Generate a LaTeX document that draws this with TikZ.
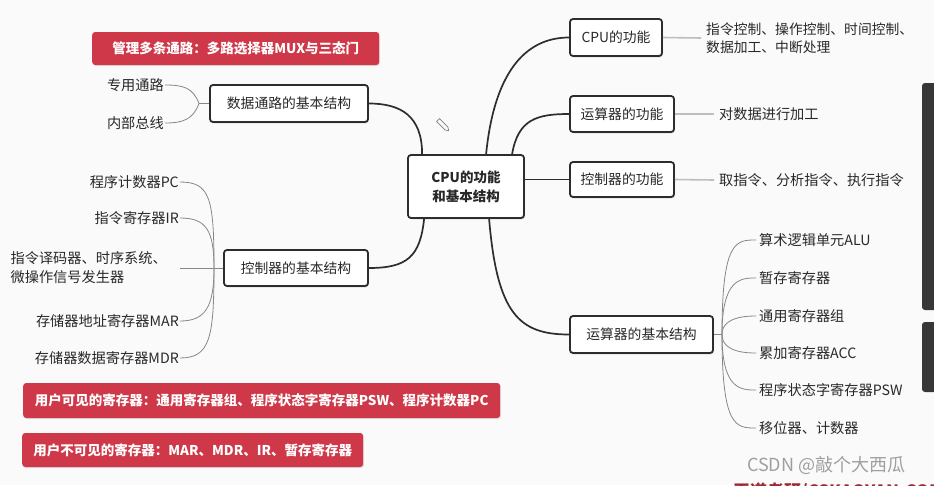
\documentclass[tikz,border=0pt]{standalone}
\usepackage{fontspec}
\setmainfont{Noto Sans CJK SC}
\usetikzlibrary{shadows}
\definecolor{redbox}{RGB}{207,56,72}
\definecolor{linec}{RGB}{45,45,45}
\definecolor{leafc}{RGB}{135,135,135}
\definecolor{leadc}{RGB}{190,190,190}
\definecolor{txt}{RGB}{40,40,40}
\definecolor{bgc}{RGB}{250,250,250}
\definecolor{barc}{RGB}{55,55,55}
\begin{document}
\begin{tikzpicture}[x=1pt,y=-1pt,
  topic/.style={draw=linec, line width=1.8pt, rounded corners=3pt, fill=white, inner sep=0pt,
    minimum height=36pt, font=\fontsize{13.8}{15}\selectfont, text=txt,
    drop shadow={shadow xshift=1pt, shadow yshift=-1.5pt, opacity=0.2}},
  leaf/.style={font=\fontsize{14.2}{19}\selectfont, text=txt, inner sep=1pt},
  redtag/.style={fill=redbox, rounded corners=3pt, text=white, font=\fontsize{13.5}{15}\selectfont\bfseries,
    inner sep=0pt, anchor=west, drop shadow={shadow xshift=0.8pt, shadow yshift=-1pt, opacity=0.2}},
  conn/.style={draw=linec, line width=1.7pt},
  twig/.style={draw=leafc, line width=0.8pt},
  lead/.style={draw=leadc, line width=1.6pt}]
\useasboundingbox (0,0) rectangle (934,485);
\clip (0,0) rectangle (934,485);
\fill[bgc] (0,0) rectangle (934,485);

% red tags
\node[redtag, minimum width=287pt, minimum height=33pt] (r1) at (92,48.5) {管理多条通路：多路选择器MUX与三态门};
\node[redtag, minimum width=477pt, minimum height=35pt] (r2) at (23,400.5) {用户可见的寄存器：通用寄存器组、程序状态字寄存器PSW、程序计数器PC};
\node[redtag, minimum width=341pt, minimum height=34pt] (r3) at (22,450) {用户不可见的寄存器：MAR、MDR、IR、暂存寄存器};

% topic boxes
\node[topic, minimum width=158pt, minimum height=37pt] (dp) at (289,103.5) {数据通路的基本结构};
\node[topic, minimum width=144pt, minimum height=36pt] (cs) at (296,268) {控制器的基本结构};
\node[topic, minimum width=116pt, minimum height=63pt, align=center,
      font=\fontsize{13.5}{19}\selectfont\bfseries] (c) at (466,186.5) {CPU的功能\\和基本结构};
\node[topic, minimum width=92pt, minimum height=37pt] (f1) at (616,37.5) {CPU的功能};
\node[topic, minimum width=104pt, minimum height=36pt] (f2) at (622,114) {运算器的功能};
\node[topic, minimum width=104pt, minimum height=35pt] (f3) at (622,179.5) {控制器的功能};
\node[topic, minimum width=143pt, minimum height=37pt] (as) at (641.5,334.5) {运算器的基本结构};

% main connectors
\draw[conn] (dp.east) .. controls +(32,0) and +(0,-38) .. ([xshift=15pt]c.north west);
\draw[conn] ([xshift=17pt]c.south west) .. controls +(-4,38) and +(38,0) .. (cs.east);
\draw[conn] ([xshift=79pt]c.north west) .. controls +(8,-80) and +(-45,0) .. (f1.west);
\draw[conn] ([xshift=105pt]c.north west) .. controls +(6,-35) and +(-32,0) .. (f2.west);
\draw[conn] (c.east |- f3.west) -- (f3.west);
\draw[conn] ([xshift=82pt]c.south west) .. controls +(8,95) and +(-50,0) .. (as.west);

% data path leaves
\node[leaf, anchor=east] (d1) at (165,85) {专用通路};
\node[leaf, anchor=east] (d2) at (165,123) {内部总线};
\coordinate (dpb) at (199,103.5);
\draw[twig] (dp.west) -- (dpb);
\draw[twig] (dpb) .. controls +(-6,-16) and +(18,0) .. (d1.east);
\draw[twig] (dpb) .. controls +(-6,16) and +(18,0) .. (d2.east);

% controller structure leaves
\node[leaf, anchor=east] (l1) at (180,182) {程序计数器PC};
\node[leaf, anchor=east] (l2) at (180,218) {指令寄存器IR};
\node[leaf, anchor=east, align=left] (l3) at (168,268) {指令译码器、时序系统、\\微操作信号发生器};
\node[leaf, anchor=east] (l4) at (180,321) {存储器地址寄存器MAR};
\node[leaf, anchor=east] (l5) at (180,358) {存储器数据寄存器MDR};
\coordinate (csb) at (214,268);
\draw[twig] (cs.west) -- (csb);
\draw[twig] (csb) .. controls +(0,-70) and +(30,0) .. (l1.east);
\draw[twig] (csb) .. controls +(0,-38) and +(26,0) .. (l2.east);
\draw[twig] (csb) -- ([xshift=12pt]l3.east);
\draw[twig] (csb) .. controls +(0,38) and +(26,0) .. (l4.east);
\draw[twig] (csb) .. controls +(0,70) and +(30,0) .. (l5.east);

% function texts
\node[leaf, anchor=west, align=left, font=\fontsize{13.8}{18}\selectfont] (t1) at (705,38) {指令控制、操作控制、时间控制、\\数据加工、中断处理};
\node[leaf, anchor=west] (t2) at (718,114) {对数据进行加工};
\node[leaf, anchor=west] (t3) at (718,180) {取指令、分析指令、执行指令};
\draw[lead] (f1.east) -- ([xshift=-4pt]t1.west);
\draw[lead] (f2.east) -- ([xshift=-4pt]t2.west);
\draw[lead] (f3.east) -- ([xshift=-4pt]t3.west);

% ALU structure leaves
\node[leaf, anchor=west] (a1) at (758,240) {算术逻辑单元ALU};
\node[leaf, anchor=west] (a2) at (758,278) {暂存寄存器};
\node[leaf, anchor=west] (a3) at (758,316) {通用寄存器组};
\node[leaf, anchor=west] (a4) at (758,353) {累加寄存器ACC};
\node[leaf, anchor=west] (a5) at (758,390) {程序状态字寄存器PSW};
\node[leaf, anchor=west] (a6) at (758,428) {移位器、计数器};
\coordinate (asb) at (722,334.5);
\draw[twig] (as.east) -- (asb);
\foreach \k/\d in {a1/40, a2/30, a3/14, a4/14, a5/30, a6/40}{
  \draw[twig] (asb) .. controls (asb |- \k.west) and +(-\d/2,0) .. ([xshift=-2pt]\k.west);
}

% pencil icon
\begin{scope}[shift={(443,125)}, rotate=-45]
  \draw[gray, line width=0.7pt] (-7,-2) -- (5,-2) -- (8,0) -- (5,2) -- (-7,2) -- cycle;
\end{scope}

% right-side bars
\fill[barc, rounded corners=3pt] (922,83) rectangle (944,310);
\fill[barc, rounded corners=3pt] (922,322) rectangle (944,392);

% watermark and bottom text
\node[anchor=west, text=gray!75, font=\fontsize{18}{20}\selectfont, inner sep=0pt] (wm) at (747,465) {CSDN @敲个大西瓜};
\node[anchor=west, text=redbox!75!black, font=\fontsize{17}{19}\selectfont\bfseries, inner sep=0pt] (wd) at (733,492) {王道考研/CSKAOYAN.COM};
\end{tikzpicture}
\end{document}
